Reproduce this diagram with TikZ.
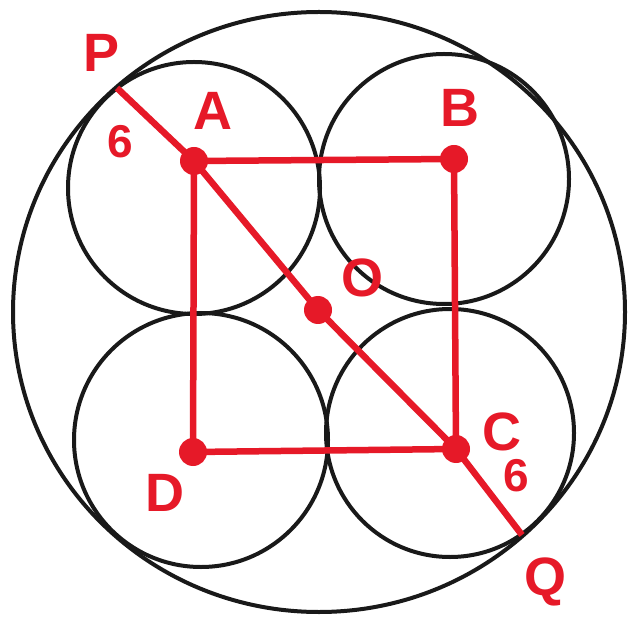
\documentclass[tikz,border=0pt]{standalone}
\usepackage{fontspec}
\setmainfont{Liberation Sans}
\definecolor{myred}{RGB}{230,25,40}
\begin{document}
\begin{tikzpicture}[x=1pt,y=-1pt,
  ring/.style={draw=black!90, line width=4pt},
  redline/.style={draw=myred, line width=6.5pt},
  dotpt/.style={circle, fill=myred, minimum size=28pt, inner sep=0pt},
  lab/.style={text=myred, font=\bfseries\fontsize{54}{54}\selectfont, inner sep=0pt},
  six/.style={text=myred, font=\bfseries\fontsize{46}{46}\selectfont, inner sep=0pt}]
\useasboundingbox (0,0) rectangle (634,617);
% circles
\draw[ring] (319,312) ellipse [x radius=306pt, y radius=300pt];
\draw[ring] (194,188) circle [radius=126pt];
\draw[ring] (444,179) circle [radius=125pt];
\draw[ring] (201,440) circle [radius=127pt];
\draw[ring] (450,433) circle [radius=124pt];
% points
\coordinate (P) at (117,88);
\coordinate (Q) at (522,535);
\node[dotpt] (A) at (194,161) {};
\node[dotpt] (B) at (454,159) {};
\node[dotpt] (C) at (456,449) {};
\node[dotpt] (D) at (193,452) {};
\node[dotpt] (O) at (318,310) {};
% lines
\draw[redline] (A.center) -- (B.center) -- (C.center) -- (D.center) -- cycle;
\draw[redline] (P) -- (A.center) -- (O.center) -- (C.center) -- (Q);
% labels
\node[lab] (lP) at (102,53) {P};
\node[lab] (lA) at (213,111) {A};
\node[lab] (lB) at (460,108) {B};
\node[lab] (lO) at (362,278) {O};
\node[lab] (lC) at (502,432) {C};
\node[lab] (lD) at (165,493) {D};
\node[lab] (lQ) at (545,582) {Q};
\node[six] (s1) at (120,142) {6};
\node[six] (s2) at (516,476) {6};
\end{tikzpicture}
\end{document}
